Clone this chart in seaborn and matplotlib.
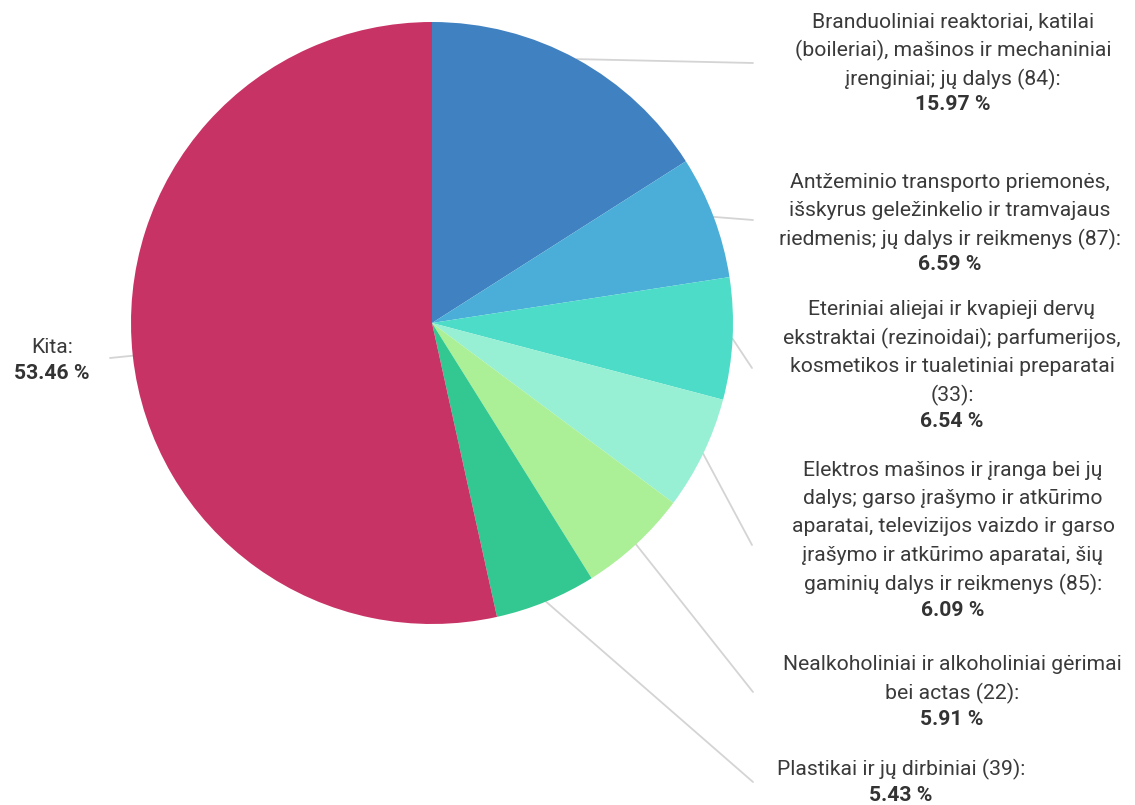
import matplotlib
matplotlib.use('Agg')
import matplotlib.pyplot as plt
import seaborn as sns
import numpy as np

# === data ===
names = [
    'Branduoliniai reaktoriai, katilai\n(boileriai), mašinos ir mechaniniai\nįrenginiai; jų dalys (84):',
    'Antžeminio transporto priemonės,\nišskyrus geležinkelio ir tramvajaus\nriedmenis; jų dalys ir reikmenys (87):',
    'Eteriniai aliejai ir kvapieji dervų\nekstraktai (rezinoidai); parfumerijos,\nkosmetikos ir tualetiniai preparatai\n(33):',
    'Elektros mašinos ir įranga bei jų\ndalys; garso įrašymo ir atkūrimo\naparatai, televizijos vaizdo ir garso\nįrašymo ir atkūrimo aparatai, šių\ngaminių dalys ir reikmenys (85):',
    'Nealkoholiniai ir alkoholiniai gėrimai\nbei actas (22):',
    'Plastikai ir jų dirbiniai (39):',
    'Kita:',
]
shares = [15.97, 6.59, 6.54, 6.09, 5.91, 5.43, 53.46]
colors = ['#4081c1', '#4aaed8', '#4cdcc8', '#97f0d3', '#abf097', '#33c891', '#c83366']

# === layout (pixels, y from top) ===
W, H = 1135, 805
cx, cy, R = 432, 323, 301
# label block: centre x, first line y, leader line end point
label_x = [953, 950, 952, 953, 952, 901, 52]
label_y = [22, 182, 310, 470, 665, 769, 348]
line_end = [(753, 63), (753, 220), (752, 368), (752, 545), (753, 692), (753, 782), (110, 358)]
step = 28.5

sns.set_theme(style='white')
plt.rcParams['font.family'] = ['Roboto', 'DejaVu Sans']

fig = plt.figure(figsize=(W / 100, H / 100), dpi=100)
ax = fig.add_axes([0, 0, 1, 1])

wedges, _ = ax.pie(shares, colors=colors, startangle=90, counterclock=False,
                   center=(cx, H - cy), radius=R, frame=True,
                   wedgeprops=dict(linewidth=0))
ax.set_xlim(0, W)
ax.set_ylim(0, H)
ax.set_aspect('equal')
ax.axis('off')

for i, w in enumerate(wedges):
    ang = np.deg2rad((w.theta1 + w.theta2) / 2)
    x0 = cx + R * np.cos(ang)
    y0 = (H - cy) + R * np.sin(ang)
    x1, y1 = line_end[i]
    ax.plot([x0, x1], [y0, H - y1], color='#d4d4d4', lw=1.3, zorder=0)

    y = label_y[i]
    for ln in names[i].split('\n'):
        ax.text(label_x[i], H - y, ln, ha='center', va='center',
                fontsize=15.2, color='#3a3a3a')
        y += step
    ax.text(label_x[i], H - y + 2.5, f'{shares[i]:.2f} %', ha='center', va='center',
            fontsize=15.2, color='#333333', fontweight='bold')

fig.savefig('out.png', dpi=100)
